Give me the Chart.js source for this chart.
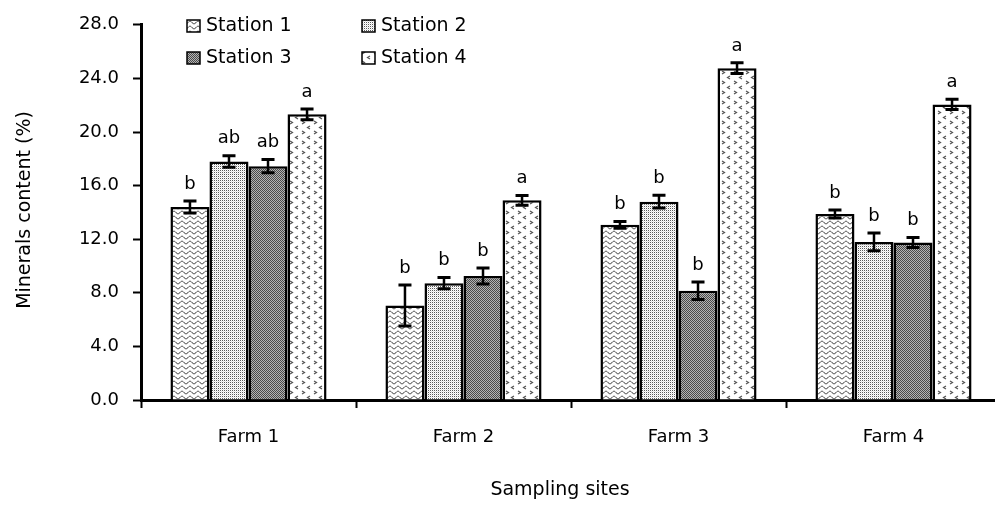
<!DOCTYPE html>
<html>
<head>
<meta charset="utf-8">
<script src="https://cdn.jsdelivr.net/npm/chart.js@4.4.0/dist/chart.umd.min.js"></script>
<style>
  html, body { margin: 0; padding: 0; overflow: hidden; background: #fff; }
</style>
</head>
<body>
<canvas id="minerals-chart" width="1012" height="506"></canvas>
<script>
// Data
const farms = ['Farm 1', 'Farm 2', 'Farm 3', 'Farm 4'];
const stationNames = ['Station 1', 'Station 2', 'Station 3', 'Station 4'];
const station1 = [14.4, 7.05, 13.07, 13.88];
const station2 = [17.8, 8.72, 14.8, 11.8];
const station3 = [17.45, 9.26, 8.15, 11.75];
const station4 = [21.32, 14.9, 24.76, 22.06];
const err1 = [0.45, 1.53, 0.26, 0.3];
const err2 = [0.43, 0.42, 0.48, 0.67];
const err3 = [0.5, 0.6, 0.65, 0.37];
const err4 = [0.4, 0.37, 0.4, 0.39];
const letters1 = ['b', 'b', 'b', 'b'];
const letters2 = ['ab', 'b', 'b', 'b'];
const letters3 = ['ab', 'b', 'b', 'b'];
const letters4 = ['a', 'a', 'a', 'a'];
const yTicks = [0, 4, 8, 12, 16, 20, 24, 28];

const FONT = 'DejaVu Sans';

// Pattern builders
function makeTile(w, h, draw) {
    const c = document.createElement('canvas');
    c.width = w;
    c.height = h;
    const g = c.getContext('2d');
    g.fillStyle = '#fff';
    g.fillRect(0, 0, w, h);
    draw(g);
    return document.getElementById('minerals-chart').getContext('2d').createPattern(c, 'repeat');
}

const wavePattern = makeTile(8, 5, g => {
    g.strokeStyle = '#333';
    g.lineWidth = 1;
    g.beginPath();
    for (let x = -1; x <= 9; x += 0.5) {
        const y = 2.5 + 1.3 * Math.sin((x / 8) * Math.PI * 2);
        if (x === -1) g.moveTo(x, y); else g.lineTo(x, y);
    }
    g.stroke();
});

const lightDotPattern = makeTile(2, 2, g => {
    g.fillStyle = '#5a5a5a';
    g.fillRect(0, 0, 1, 1);
    g.fillStyle = '#e0e0e0';
    g.fillRect(1, 1, 1, 1);
});

const darkDotPattern = makeTile(2, 2, g => {
    g.fillStyle = '#4a4a4a';
    g.fillRect(0, 0, 1, 1);
    g.fillRect(1, 1, 1, 1);
    g.fillStyle = '#b4b4b4';
    g.fillRect(1, 0, 1, 1);
    g.fillRect(0, 1, 1, 1);
});

const chevronPattern = makeTile(12, 10, g => {
    g.strokeStyle = '#555';
    g.lineWidth = 1.2;
    g.beginPath();
    g.moveTo(2, 1); g.lineTo(4.5, 2.5); g.lineTo(2, 4);
    g.moveTo(10, 6); g.lineTo(7.5, 7.5); g.lineTo(10, 9);
    g.stroke();
});

const patterns = [wavePattern, lightDotPattern, darkDotPattern, chevronPattern];
const values = [station1, station2, station3, station4];
const errors = [err1, err2, err3, err4];
const letters = [letters1, letters2, letters3, letters4];

// Error bars and significance letters
const errorBarPlugin = {
    id: 'errorBars',
    afterDatasetsDraw(chart) {
        const ctx = chart.ctx;
        const y = chart.scales.y;
        ctx.save();
        ctx.strokeStyle = '#000';
        ctx.fillStyle = '#000';
        ctx.font = '18px "' + FONT + '"';
        ctx.textAlign = 'center';
        ctx.textBaseline = 'bottom';
        chart.data.datasets.forEach((ds, di) => {
            const meta = chart.getDatasetMeta(di);
            meta.data.forEach((bar, i) => {
                const v = ds.data[i];
                const e = errors[di][i];
                const top = y.getPixelForValue(v + e);
                const bot = y.getPixelForValue(v - e);
                ctx.lineWidth = 2.5;
                ctx.beginPath();
                ctx.moveTo(bar.x, top);
                ctx.lineTo(bar.x, bot);
                ctx.stroke();
                ctx.lineWidth = 3;
                ctx.beginPath();
                ctx.moveTo(bar.x - 6.5, top);
                ctx.lineTo(bar.x + 6.5, top);
                ctx.moveTo(bar.x - 6.5, bot);
                ctx.lineTo(bar.x + 6.5, bot);
                ctx.stroke();
                ctx.fillText(letters[di][i], bar.x, top - 8);
            });
        });
        ctx.restore();
    }
};

// Legend (two columns) and axis titles
const decorPlugin = {
    id: 'decor',
    afterDraw(chart) {
        const ctx = chart.ctx;
        ctx.save();
        ctx.font = '19px "' + FONT + '"';
        ctx.textBaseline = 'middle';
        ctx.textAlign = 'left';
        const spots = [[187, 26], [362, 26], [187, 58], [362, 58]];
        stationNames.forEach((name, i) => {
            const [lx, ly] = spots[i];
            ctx.fillStyle = patterns[i];
            ctx.fillRect(lx, ly - 6, 13, 12);
            ctx.strokeStyle = '#000';
            ctx.lineWidth = 1.5;
            ctx.strokeRect(lx, ly - 6, 13, 12);
            ctx.fillStyle = '#000';
            ctx.fillText(name, lx + 19, ly);
        });

        ctx.textAlign = 'center';
        ctx.fillText('Sampling sites', 560, 490);
        ctx.translate(25, 210);
        ctx.rotate(-Math.PI / 2);
        ctx.fillText('Minerals content (%)', 0, 0);
        ctx.restore();
    }
};

const ctx = document.getElementById('minerals-chart').getContext('2d');
new Chart(ctx, {
    type: 'bar',
    data: {
        labels: farms,
        datasets: stationNames.map((name, i) => ({
            label: name,
            data: values[i],
            backgroundColor: patterns[i],
            borderColor: '#000',
            borderWidth: 2.5,
            categoryPercentage: 0.726,
            barPercentage: 1
        }))
    },
    options: {
        responsive: false,
        animation: false,
        layout: { padding: { top: 20, right: 11, left: 0, bottom: 0 } },
        plugins: {
            legend: { display: false },
            tooltip: { enabled: false }
        },
        scales: {
            x: {
                grid: {
                    offset: true,
                    drawOnChartArea: false,
                    tickLength: 8,
                    tickColor: '#000',
                    tickWidth: 2
                },
                border: { color: '#000', width: 3 },
                ticks: { color: '#000', font: { family: FONT, size: 18 }, padding: 19 },
                afterFit(scale) { scale.height = 106; }
            },
            y: {
                min: 0,
                max: 28,
                afterBuildTicks(scale) { scale.ticks = yTicks.map(v => ({ value: v })); },
                ticks: {
                    color: '#000',
                    font: { family: FONT, size: 18 },
                    padding: 14,
                    callback: v => v.toFixed(1)
                },
                grid: {
                    drawOnChartArea: false,
                    tickLength: 8,
                    tickColor: '#000',
                    tickWidth: 2
                },
                border: { color: '#000', width: 3 },
                afterFit(scale) { scale.width = 141; }
            }
        }
    },
    plugins: [errorBarPlugin, decorPlugin]
});
</script>
</body>
</html>
